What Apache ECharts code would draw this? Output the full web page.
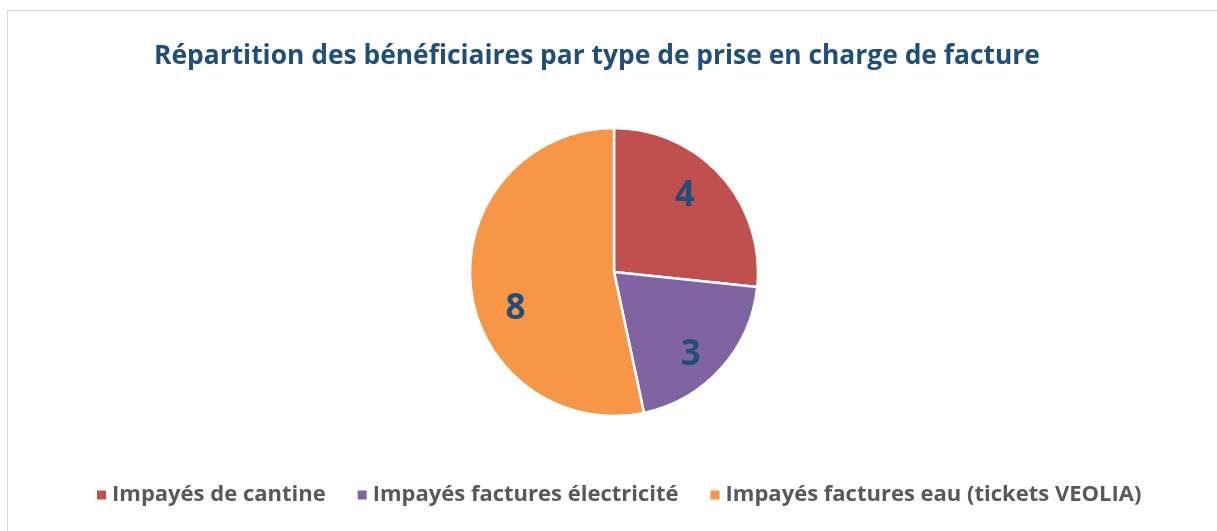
<!DOCTYPE html>
<html>
<head>
<meta charset="utf-8">
<script src="https://cdn.jsdelivr.net/npm/echarts@6/dist/echarts.min.js"></script>
<style>
  html, body { margin: 0; padding: 0; background: #fff; }
  .frame {
    position: absolute; left: 7px; top: 10px; width: 1230px; height: 540px;
    border: 1px solid #d9d9d9; box-sizing: border-box;
  }
  .Echart { position: absolute; left: 0; top: 0; width: 1217px; height: 531px; }
</style>
</head>
<body>
<div class="frame"></div>
<div class="Echart" id="echart"></div>
<script>
const categories = ['Impayés de cantine', 'Impayés factures électricité', 'Impayés factures eau (tickets VEOLIA)']
const values = [4, 3, 8]
const colors = ['#C0504D', '#8064A2', '#F79646']

const pieData = categories.map((name, i) => ({ name: name, value: values[i], itemStyle: { color: colors[i] } }))
const labelData = categories.map((name, i) => ({ name: name, value: values[i] }))

// small nudges so the value labels sit where Excel put them
const labelShift = [[-8, -5], [-2, 12], [7, 26]]

const myChart = echarts.init(document.getElementById('echart'))
myChart.setOption({
  animation: false,
  title: {
    text: 'Répartition des bénéficiaires par type de prise en charge de facture',
    left: 149,
    top: 38,
    textStyle: {
      fontFamily: 'Open Sans',
      fontWeight: 'bold',
      fontSize: 26.4,
      color: '#1F4E79'
    }
  },
  legend: {
    data: categories,
    bottom: 20,
    left: 90,
    icon: 'rect',
    itemWidth: 11,
    itemHeight: 11,
    itemGap: 30,
    textStyle: {
      fontFamily: 'Open Sans',
      fontWeight: 'bold',
      fontSize: 22,
      color: '#595959'
    }
  },
  series: [
    {
      name: 'pie',
      type: 'pie',
      center: [614, 272],
      radius: [0, 144],
      startAngle: 90,
      clockwise: true,
      label: { show: false },
      labelLine: { show: false },
      itemStyle: { borderColor: '#fff', borderWidth: 2.5 },
      emphasis: { disabled: true },
      data: pieData
    },
    {
      name: 'labels',
      type: 'pie',
      center: [614, 272],
      radius: [0, 206],
      startAngle: 90,
      clockwise: true,
      silent: true,
      itemStyle: { color: 'transparent' },
      labelLine: { show: false },
      label: {
        show: true,
        position: 'inside',
        formatter: '{c}',
        fontFamily: 'Open Sans',
        fontWeight: 'bold',
        fontSize: 35,
        color: '#1F4E79'
      },
      labelLayout: function (params) {
        const s = labelShift[params.dataIndex]
        return { dx: s[0], dy: s[1] }
      },
      emphasis: { disabled: true },
      data: labelData
    }
  ]
})
</script>
</body>
</html>
